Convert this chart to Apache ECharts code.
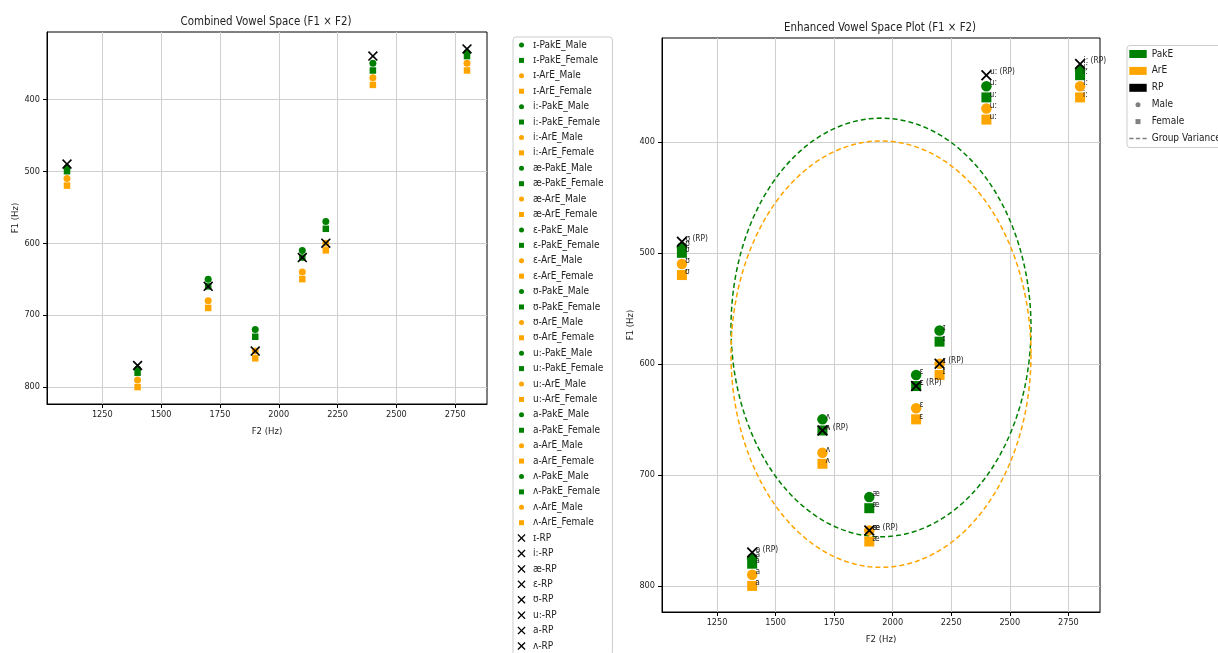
<!DOCTYPE html>
<html>
<head>
<meta charset="utf-8">
<script src="https://cdn.jsdelivr.net/npm/echarts@6/dist/echarts.min.js"></script>
<style>
  html, body { margin: 0; padding: 0; background: #fff; }
  #chart { width: 1218px; height: 653px; }
</style>
</head>
<body>
<div id="chart"></div>
<script>
// Vowels (legend order) and their F2 values in Hz
const vowels = ['ɪ', 'i:', 'æ', 'ɛ', 'ʊ', 'u:', 'a', 'ʌ'];
const f2 = [2200, 2800, 1900, 2100, 1100, 2400, 1400, 1700];

// F1 values in Hz, same vowel order
const f1PakEMale   = [570, 335, 720, 610, 495, 350, 775, 650];
const f1PakEFemale = [580, 340, 730, 620, 500, 360, 780, 660];
const f1ArEMale    = [600, 350, 750, 640, 510, 370, 790, 680];
const f1ArEFemale  = [610, 360, 760, 650, 520, 380, 800, 690];
const f1RP         = [600, 330, 750, 620, 490, 340, 770, 660];

// Axis tick values
const xTicks = [1250, 1500, 1750, 2000, 2250, 2500, 2750];
const yTicks = [400, 500, 600, 700, 800];

const FONT = '"DejaVu Sans Condensed", "DejaVu Sans", sans-serif';
const TEXT = '#222';
const GREEN = '#008000';
const ORANGE = '#ffa500';
const GRAY = '#808080';

const groups = [
  { variety: 'PakE', gender: 'Male',   f1: f1PakEMale,   color: GREEN,  symbol: 'circle' },
  { variety: 'PakE', gender: 'Female', f1: f1PakEFemale, color: GREEN,  symbol: 'rect' },
  { variety: 'ArE',  gender: 'Male',   f1: f1ArEMale,    color: ORANGE, symbol: 'circle' },
  { variety: 'ArE',  gender: 'Female', f1: f1ArEFemale,  color: ORANGE, symbol: 'rect' }
];

// "x" marker drawn as a filled cross
const X_MARK = 'path://M0,1.15L1.15,0L5,3.85L8.85,0L10,1.15L6.15,5L10,8.85L8.85,10L5,6.15L1.15,10L0,8.85L3.85,5Z';
// Legend icons: the leading moves reserve an empty frame so the glyph stays small
const ICON_DOT = 'path://M0,0M16,16M3,8A5,5,0,1,1,13,8A5,5,0,1,1,3,8Z';
const ICON_SQUARE = 'path://M0,0M16,16M3,3L13,3L13,13L3,13Z';
const ICON_DASH = 'path://M0,0M18,8M0,3.3L4.4,3.3L4.4,4.7L0,4.7ZM6.8,3.3L11.2,3.3L11.2,4.7L6.8,4.7ZM13.6,3.3L18,3.3L18,4.7L13.6,4.7Z';

// Axis limits: data range padded by 5% on each side
const allF1 = [].concat(f1PakEMale, f1PakEFemale, f1ArEMale, f1ArEFemale, f1RP);
function padded(values) {
  const lo = Math.min.apply(null, values), hi = Math.max.apply(null, values);
  const m = (hi - lo) * 0.05;
  return [lo - m, hi + m];
}
const [X_MIN, X_MAX] = padded(f2);
const [Y_MIN, Y_MAX] = padded(allF1);

// Spread ellipses: centred on each variety's mean, radii scaled from the std deviation
const VARIANCE_SCALE = 1.25;
function mean(a) { return a.reduce((s, v) => s + v, 0) / a.length; }
function std(a) { const m = mean(a); return Math.sqrt(a.reduce((s, v) => s + (v - m) * (v - m), 0) / a.length); }
function ellipse(f2s, f1s) {
  const cx = mean(f2s), cy = mean(f1s);
  const rx = VARIANCE_SCALE * std(f2s), ry = VARIANCE_SCALE * std(f1s);
  const pts = [];
  for (let k = 0; k <= 240; k++) {
    const t = 2 * Math.PI * k / 240;
    pts.push([cx + rx * Math.cos(t), cy + ry * Math.sin(t)]);
  }
  return pts;
}

const plainNumber = v => String(v);

function xAxis(gridIndex) {
  return {
    type: 'value', gridIndex: gridIndex, min: X_MIN, max: X_MAX,
    name: 'F2 (Hz)', nameLocation: 'middle', nameGap: 23,
    nameTextStyle: { fontFamily: FONT, fontSize: 9.5, color: TEXT },
    axisLine: { show: true, onZero: false, lineStyle: { color: '#000', width: 1 } },
    axisTick: { show: true, length: 4, customValues: xTicks, lineStyle: { color: '#000', width: 1 } },
    axisLabel: { customValues: xTicks, formatter: plainNumber, margin: 6, fontFamily: FONT, fontSize: 9.1, color: TEXT },
    splitLine: { show: true, lineStyle: { color: '#cfcfcf', width: 1 } }
  };
}
function yAxis(gridIndex) {
  return {
    type: 'value', gridIndex: gridIndex, inverse: true, min: Y_MIN, max: Y_MAX,
    name: 'F1 (Hz)', nameLocation: 'middle', nameGap: 26, nameRotate: 90,
    nameTextStyle: { fontFamily: FONT, fontSize: 9.5, color: TEXT },
    axisLine: { show: true, onZero: false, lineStyle: { color: '#000', width: 1 } },
    axisTick: { show: true, length: 4, customValues: yTicks, lineStyle: { color: '#000', width: 1 } },
    axisLabel: { customValues: yTicks, formatter: plainNumber, margin: 7, fontFamily: FONT, fontSize: 9.1, color: TEXT },
    splitLine: { show: true, lineStyle: { color: '#cfcfcf', width: 1 } }
  };
}

const series = [];

// Combined plot: one series per vowel and speaker group, then the RP references
vowels.forEach((v, i) => {
  groups.forEach(g => {
    series.push({
      name: v + '-' + g.variety + '_' + g.gender,
      type: 'scatter', xAxisIndex: 0, yAxisIndex: 0,
      symbol: g.symbol, symbolSize: g.symbol === 'circle' ? 7 : 6.5,
      itemStyle: { color: g.color, opacity: 1 },
      emphasis: { disabled: true },
      data: [[f2[i], g.f1[i]]]
    });
  });
});
vowels.forEach((v, i) => {
  series.push({
    name: v + '-RP',
    type: 'scatter', xAxisIndex: 0, yAxisIndex: 0,
    symbol: X_MARK, symbolSize: 10,
    itemStyle: { color: '#000', opacity: 1 },
    emphasis: { disabled: true },
    data: [[f2[i], f1RP[i]]]
  });
});
const leftLegendData = series.map(s => ({
  name: s.name,
  icon: s.symbol === 'circle' ? ICON_DOT : (s.symbol === 'rect' ? ICON_SQUARE : X_MARK)
}));

// Enhanced plot: spread ellipses underneath
[
  { name: 'PakE spread', color: GREEN,  f1: f1PakEMale.concat(f1PakEFemale) },
  { name: 'ArE spread',  color: ORANGE, f1: f1ArEMale.concat(f1ArEFemale) }
].forEach(e => {
  series.push({
    name: e.name, type: 'line', xAxisIndex: 1, yAxisIndex: 1,
    showSymbol: false, symbol: 'none', silent: true, z: 1,
    lineStyle: { color: e.color, width: 1.5, type: [5, 3] },
    data: ellipse(f2.concat(f2), e.f1)
  });
});

const pointLabel = {
  show: true, position: 'right', distance: -2, offset: [0, -3],
  formatter: '{b}', fontFamily: FONT, fontSize: 8.3, color: TEXT
};
groups.forEach(g => {
  series.push({
    name: g.variety + ' ' + g.gender,
    type: 'scatter', xAxisIndex: 1, yAxisIndex: 1,
    symbol: g.symbol, symbolSize: g.symbol === 'circle' ? 10.5 : 10,
    itemStyle: { color: g.color, opacity: 1 },
    emphasis: { disabled: true },
    label: pointLabel,
    data: vowels.map((v, i) => ({ name: v, value: [f2[i], g.f1[i]] }))
  });
});
series.push({
  name: 'RP reference',
  type: 'scatter', xAxisIndex: 1, yAxisIndex: 1,
  symbol: X_MARK, symbolSize: 11,
  itemStyle: { color: '#000', opacity: 1 },
  emphasis: { disabled: true },
  label: pointLabel,
  data: vowels.map((v, i) => ({ name: v + ' (RP)', value: [f2[i], f1RP[i]] }))
});

// Key entries for the enhanced plot
const rightKey = [
  { name: 'PakE', icon: 'rect', color: GREEN },
  { name: 'ArE', icon: 'rect', color: ORANGE },
  { name: 'RP', icon: 'rect', color: '#000' },
  { name: 'Male', icon: ICON_DOT, color: GRAY },
  { name: 'Female', icon: ICON_SQUARE, color: GRAY },
  { name: 'Group Variance', icon: ICON_DASH, color: GRAY }
];
rightKey.forEach(k => {
  series.push({
    name: k.name, type: 'scatter', xAxisIndex: 1, yAxisIndex: 1,
    itemStyle: { color: k.color, opacity: 1 }, data: []
  });
});

const option = {
  animation: false,
  backgroundColor: '#fff',
  textStyle: { fontFamily: FONT },
  title: [
    { text: 'Combined Vowel Space (F1 × F2)', left: 266, top: 16.5, padding: 0, textAlign: 'center',
      textStyle: { fontFamily: FONT, fontSize: 11.4, fontWeight: 'normal', color: TEXT } },
    { text: 'Enhanced Vowel Space Plot (F1 × F2)', left: 880, top: 22.5, padding: 0, textAlign: 'center',
      textStyle: { fontFamily: FONT, fontSize: 11.4, fontWeight: 'normal', color: TEXT } }
  ],
  grid: [
    { left: 47, top: 32, width: 440, height: 372, show: true, borderColor: '#000', borderWidth: 1, backgroundColor: '#fff' },
    { left: 662, top: 38, width: 438, height: 574, show: true, borderColor: '#000', borderWidth: 1, backgroundColor: '#fff' }
  ],
  xAxis: [xAxis(0), xAxis(1)],
  yAxis: [yAxis(0), yAxis(1)],
  legend: [
    {
      orient: 'vertical', left: 513, top: 37, height: 900,
      padding: [3, 9, 4, 4.5], itemGap: 5.41, itemWidth: 13, itemHeight: 8,
      backgroundColor: '#fff', borderColor: '#cccccc', borderWidth: 1, borderRadius: 3,
      selectedMode: false,
      textStyle: { fontFamily: FONT, fontSize: 10, color: TEXT, lineHeight: 8 },
      data: leftLegendData
    },
    {
      orient: 'vertical', left: 1127, top: 45.5,
      padding: [3.5, 8, 4, 2.3], itemGap: 6.9, itemWidth: 17.4, itemHeight: 8,
      backgroundColor: '#fff', borderColor: '#cccccc', borderWidth: 1, borderRadius: 3,
      selectedMode: false,
      textStyle: { fontFamily: FONT, fontSize: 10, color: TEXT, lineHeight: 8 },
      data: rightKey.map(k => ({ name: k.name, icon: k.icon, itemStyle: { color: k.color, opacity: 1 } }))
    }
  ],
  series: series
};

const chart = echarts.init(document.getElementById('chart'), null, { renderer: 'canvas' });
chart.setOption(option);
</script>
</body>
</html>
